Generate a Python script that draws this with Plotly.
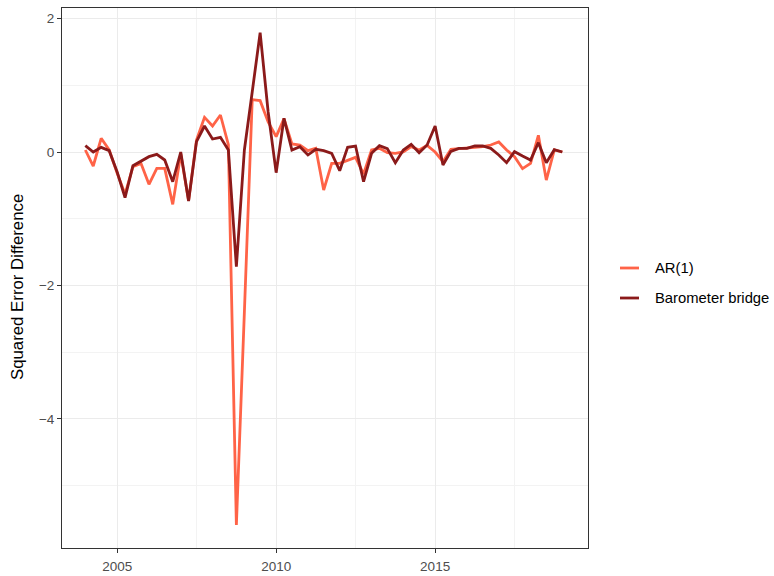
import pandas as pd
import plotly.graph_objects as go

# Quarterly dates 2004Q1 .. 2019Q1
quarters = pd.date_range("2004-01-01", periods=61, freq="QS")

ar1 = [0.03, -0.21, 0.205, 0.03, -0.32, -0.63, -0.22, -0.17, -0.485, -0.245,
       -0.245, -0.785, -0.03, -0.73, 0.18, 0.52, 0.39, 0.555, 0.11, -5.59,
       -2.4, 0.785, 0.77, 0.45, 0.23, 0.5, 0.12, 0.105, 0.02, 0.055,
       -0.57, -0.17, -0.17, -0.12, -0.08, -0.33, 0.03, 0.055, -0.01, -0.02,
       0.0, 0.08, 0.03, 0.1, 0.0, -0.145, 0.04, 0.05, 0.055, 0.07,
       0.08, 0.105, 0.15, 0.03, -0.07, -0.25, -0.17, 0.25, -0.42, 0.03, 0.0]

barometer = [0.095, 0.0, 0.07, 0.02, -0.30, -0.685, -0.205, -0.135, -0.07, -0.035,
             -0.12, -0.445, 0.0, -0.735, 0.155, 0.39, 0.195, 0.22, 0.03, -1.72,
             0.03, 0.9, 1.79, 0.6, -0.31, 0.505, 0.03, 0.08, -0.045, 0.04,
             0.02, -0.02, -0.28, 0.07, 0.09, -0.445, -0.02, 0.095, 0.05, -0.16,
             0.03, 0.115, -0.01, 0.105, 0.39, -0.195, 0.01, 0.055, 0.055, 0.09,
             0.09, 0.055, -0.045, -0.16, 0.005, -0.06, -0.12, 0.14, -0.16, 0.035, 0.0]

series_names = ["AR(1)", "Barometer bridge"]
series_colors = ["#FF6347", "#8B1A1A"]

x_tick_years = [2005, 2010, 2015]
x_minor_years = ["2007-07-02", "2012-07-02", "2017-07-02"]
y_ticks = [-4, -2, 0, 2]
y_minor = [-5, -3, -1, 1]
y_title = "Squared Error Difference"

FONT = "Liberation Sans, Arial, sans-serif"
TICK_SIZE = 13.5

fig = go.Figure()
for name, vals, col in zip(series_names, [ar1, barometer], series_colors):
    fig.add_trace(go.Scatter(x=quarters, y=vals, mode="lines", name=name,
                             line=dict(color=col, width=2.8), showlegend=False))

L, R, T, B = 62, 588, 8, 548
W, H = 774, 576
pw, ph = R - L, B - T

fig.update_layout(
    width=W, height=H,
    margin=dict(l=L, r=W - R, t=T, b=H - B, autoexpand=False),
    paper_bgcolor="white", plot_bgcolor="white",
    font=dict(family=FONT, color="#4D4D4D", size=13),
)

fig.update_xaxes(
    type="date", automargin=False,
    range=["2003-04-08", "2019-10-23"],
    tickmode="array",
    tickvals=[f"{y}-01-01" for y in x_tick_years],
    ticktext=[str(y) for y in x_tick_years],
    ticks="outside", ticklen=4, tickwidth=1, tickcolor="#333333",
    ticklabelstandoff=2,
    tickfont=dict(size=TICK_SIZE, color="#4D4D4D", family=FONT),
    showgrid=True, gridcolor="#EBEBEB", gridwidth=1.1,
    minor=dict(tickmode="array", tickvals=x_minor_years, showgrid=True,
               gridcolor="#F3F3F3", gridwidth=0.6, ticks=""),
    showline=True, linecolor="#333333", linewidth=1, mirror=True,
    zeroline=False,
)

fig.update_yaxes(
    automargin=False,
    range=[-5.937, 2.159],
    tickmode="array", tickvals=y_ticks,
    ticks="outside", ticklen=4, tickwidth=1, tickcolor="#333333",
    tickfont=dict(size=TICK_SIZE, color="#4D4D4D", family=FONT),
    showgrid=True, gridcolor="#EBEBEB", gridwidth=1.1,
    minor=dict(tickmode="array", tickvals=y_minor, showgrid=True,
               gridcolor="#F3F3F3", gridwidth=0.6, ticks=""),
    showline=True, linecolor="#333333", linewidth=1, mirror=True,
    zeroline=False,
)

# Y-axis title
fig.add_annotation(xref="paper", yref="paper", x=(18 - L) / pw, y=(B - 287) / ph,
                   text=y_title, textangle=-90, showarrow=False,
                   xanchor="center", yanchor="middle",
                   font=dict(size=16.8, color="black", family=FONT))

# Legend (ggplot-style keys)
leg_rows = [268, 298]
for name, col, yp in zip(series_names, series_colors, leg_rows):
    yy = (B - yp) / ph
    fig.add_shape(type="line", xref="paper", yref="paper",
                  x0=(620 - L) / pw, x1=(639 - L) / pw, y0=yy, y1=yy,
                  line=dict(color=col, width=2.8))
    fig.add_annotation(xref="paper", yref="paper", x=(653 - L) / pw, y=yy,
                       text=name, showarrow=False, xanchor="left", yanchor="middle",
                       font=dict(size=14.8, color="black", family=FONT))

fig.write_html("out.html")
